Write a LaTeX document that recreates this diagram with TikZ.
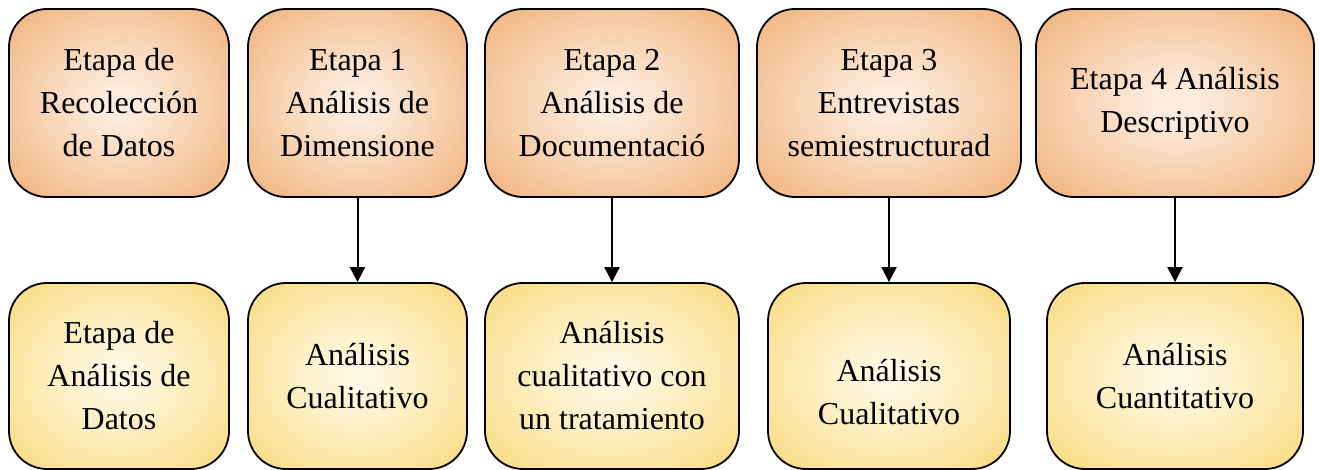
\documentclass[tikz,border=0pt]{standalone}
\usepackage{fontspec}
\setmainfont{Liberation Serif}
\usetikzlibrary{arrows.meta}
\definecolor{topin}{RGB}{253,236,222}
\definecolor{topmid}{RGB}{245,200,160}
\definecolor{topout}{RGB}{238,164,98}
\definecolor{botin}{RGB}{255,248,226}
\definecolor{botmid}{RGB}{252,230,165}
\definecolor{botout}{RGB}{248,210,100}
\pgfdeclareradialshading{topshade}{\pgfpoint{0bp}{0bp}}{color(0bp)=(topin); color(4bp)=(topin); color(24bp)=(topmid); color(42bp)=(topout); color(80bp)=(topout)}
\pgfdeclareradialshading{botshade}{\pgfpoint{0bp}{0bp}}{color(0bp)=(botin); color(4bp)=(botin); color(24bp)=(botmid); color(42bp)=(botout); color(80bp)=(botout)}
\tikzset{
  box/.style={draw=black, line width=1.8pt, rounded corners=38pt, align=center, inner sep=0pt, font=\fontsize{32}{43}\selectfont},
  topbox/.style={box, shading=topshade, minimum height=188pt},
  botbox/.style={box, shading=botshade, minimum height=186pt},
  conn/.style={line width=2pt, -{Triangle[width=15pt,length=15pt]}},
  lbl/.style={align=center, inner sep=0pt, font=\fontsize{32}{43}\selectfont}
}
\begin{document}
\begin{tikzpicture}[x=1pt,y=-1pt]
\useasboundingbox (0,0) rectangle (1320,470);
% top row
\node[topbox, minimum width=220pt] (t0) at (119,103) {Etapa de\\Recolección\\de Datos};
\node[topbox, minimum width=219pt] (t1) at (357.5,103) {Etapa 1\\Análisis de\\Dimensione};
\node[topbox, minimum width=254pt] (t2) at (612,103) {Etapa 2\\Análisis de\\Documentació};
\node[topbox, minimum width=264pt] (t3) at (889,103) {Etapa 3\\Entrevistas\\semiestructurad};
\node[topbox, minimum width=278pt] (t4) at (1175,103) {Etapa 4 Análisis\\Descriptivo};
% bottom row
\node[botbox, minimum width=220pt] (b0) at (119,376) {Etapa de\\Análisis de\\Datos};
\node[botbox, minimum width=219pt] (b1) at (357.5,376) {Análisis\\Cualitativo};
\node[botbox, minimum width=254pt] (b2) at (612,376) {Análisis\\cualitativo con\\un tratamiento};
\node[botbox, minimum width=242pt, label={[lbl, yshift=-16pt]center:Análisis\\Cualitativo}] (b3) at (889,376) {};
\node[botbox, minimum width=256pt] (b4) at (1175,376) {Análisis\\Cuantitativo};
% connectors
\draw[conn] (t1.south) -- (b1.north);
\draw[conn] (t2.south) -- (b2.north);
\draw[conn] (t3.south) -- (b3.north);
\draw[conn] (t4.south) -- (b4.north);
\end{tikzpicture}
\end{document}
